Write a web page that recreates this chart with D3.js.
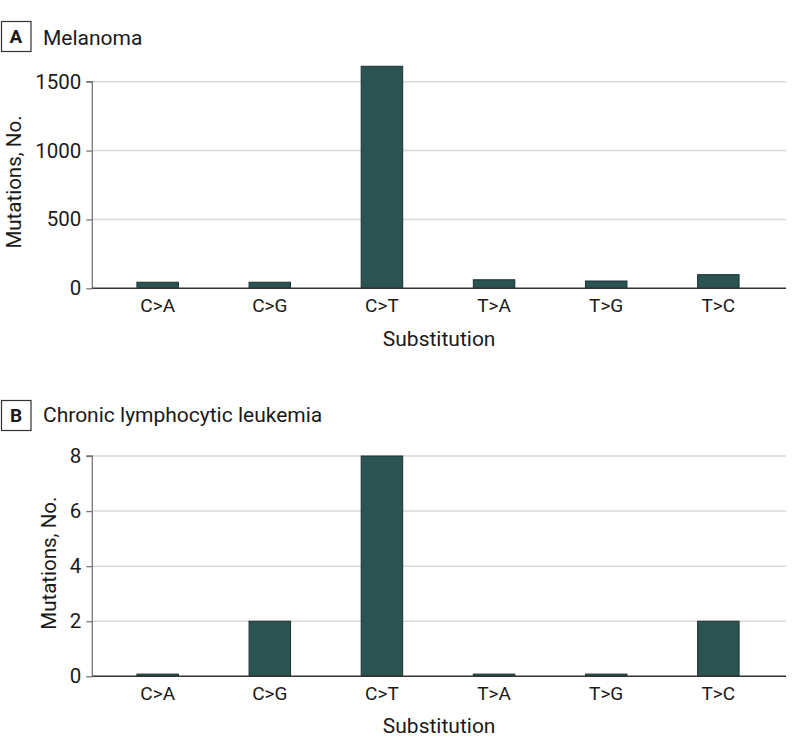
<!DOCTYPE html>
<html><head><meta charset="utf-8">
<script src="https://cdn.jsdelivr.net/npm/d3@7"></script>
<style>body{margin:0;background:#fff}svg{display:block}text{font-family:"Roboto","Noto Sans",sans-serif;fill:#1a1a1a}</style>
</head><body>
<script>
const categories = ["C>A","C>G","C>T","T>A","T>G","T>C"];
const melanomaValues = [44, 44, 1612, 62, 53, 99];
const cllValues = [0, 2, 8, 0, 0, 2];
const melanomaTicks = [0, 500, 1000, 1500];
const cllTicks = [0, 2, 4, 6, 8];
const panels = [
  {letter:"A", title:"Melanoma", values:melanomaValues, ticks:melanomaTicks, domain:[0,1500], top:81.7, base:288.3, boxY:21, titleY:45, xTitleY:346, yTitleX:14},
  {letter:"B", title:"Chronic lymphocytic leukemia", values:cllValues, ticks:cllTicks, domain:[0,8], top:456, base:676.3, boxY:400, titleY:422, xTitleY:733, yTitleX:49}
];
const W=794,H=755;
const svg=d3.select("body").append("svg").attr("width",W).attr("height",H);
const x=d3.scaleBand().domain(categories).range([101.6,774.4]).paddingInner(0.63).paddingOuter(0.315);
const axisL=92.3, axisR=786;
panels.forEach(p=>{
  const g=svg.append("g");
  const y=d3.scaleLinear().domain(p.domain).range([p.base,p.top]);
  g.append("rect").attr("x",1.5).attr("y",p.boxY+0.5).attr("width",29.5).attr("height",30).attr("fill","#fff").attr("stroke","#333").attr("stroke-width",1.2);
  g.append("text").attr("x",16).attr("y",p.boxY+22).attr("text-anchor","middle").attr("font-weight","bold").attr("font-size",19).text(p.letter);
  g.append("text").attr("x",43).attr("y",p.titleY).attr("font-size",21).text(p.title);
  g.selectAll("line.grid").data(p.ticks.filter(t=>t>0)).enter().append("line")
    .attr("x1",axisL).attr("x2",axisR).attr("y1",d=>y(d)).attr("y2",d=>y(d)).attr("stroke","#d8d8d8").attr("stroke-width",1.5);
  g.selectAll("rect.bar").data(categories.map((c,i)=>({c,v:p.values[i]}))).enter().append("rect")
    .attr("x",d=>x(d.c)).attr("width",x.bandwidth())
    .attr("y",d=>Math.min(y(d.v),p.base-2.2)).attr("height",d=>Math.max(p.base-y(d.v),2.2))
    .attr("fill","#2b5352").attr("stroke","#1c3030").attr("stroke-width",1);
  const ya=g.append("g").attr("transform",`translate(${axisL},0)`).call(d3.axisLeft(y).tickValues(p.ticks).tickSize(6).tickPadding(5).tickFormat(d3.format("d")));
  ya.select(".domain").attr("stroke","#777").attr("stroke-width",1.3).attr("d",`M-6,${y(p.ticks[p.ticks.length-1])}H0V${p.base}`);
  ya.selectAll(".tick line").attr("stroke","#777").attr("stroke-width",1.3);
  ya.selectAll(".tick text").attr("font-size",20.5).attr("fill","#1a1a1a");
  ya.attr("font-family",null);
  const xa=g.append("g").attr("transform",`translate(0,${p.base})`).call(d3.axisBottom(x).tickSize(0).tickPadding(10));
  xa.select(".domain").attr("stroke","#333").attr("stroke-width",1.5).attr("d",`M${axisL},0H${axisR}`);
  xa.selectAll(".tick text").attr("font-size",19).attr("fill","#1a1a1a");
  xa.attr("font-family",null);
  g.append("text").attr("x",(axisL+axisR)/2).attr("y",p.xTitleY).attr("text-anchor","middle").attr("font-size",21).text("Substitution");
  g.append("text").attr("transform",`translate(${p.yTitleX},${(p.top+p.base)/2-3}) rotate(-90)`).attr("text-anchor","middle").attr("dy","0.35em").attr("font-size",20.5).text("Mutations, No.");
});
</script>
</body></html>
